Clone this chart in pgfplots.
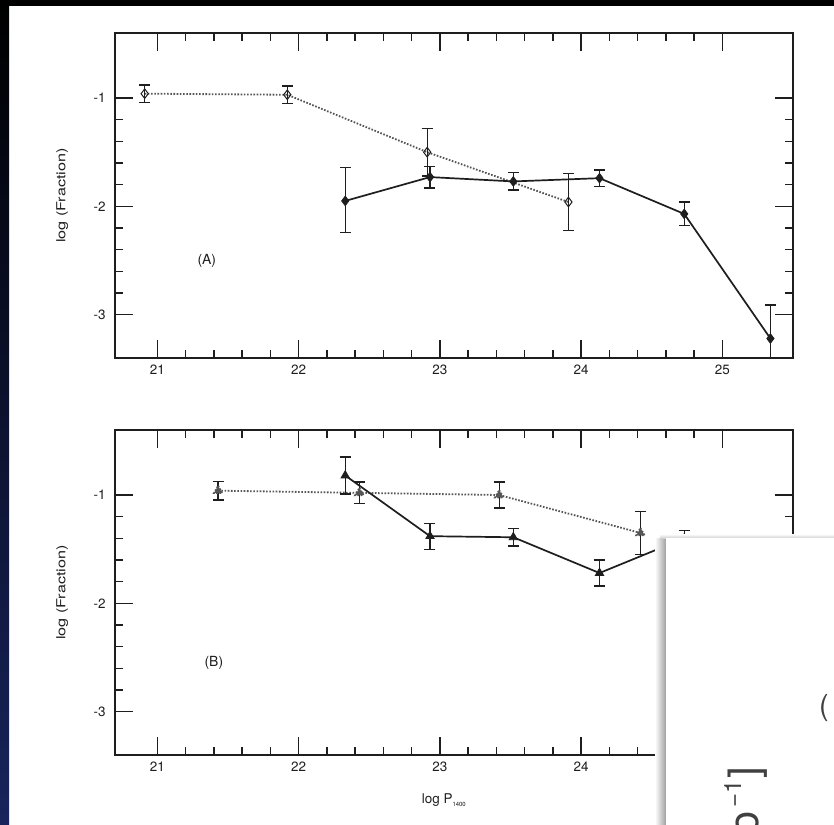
\documentclass[border=0pt]{standalone}
\usepackage{pgfplots}
\pgfplotsset{compat=1.18}
\usepackage{graphicx}
\usepackage{fontspec}
\setmainfont{TeX Gyre Heros}

\definecolor{ink}{RGB}{30,30,30}
\definecolor{dotgray}{RGB}{85,85,85}
\definecolor{navy}{RGB}{24,36,92}

\pgfplotsset{
  panel/.style={
    anchor=south west,
    width=678bp, height=325bp, scale only axis,
    xmin=20.7, xmax=25.5, ymin=-3.4, ymax=-0.4,
    xtick={21,22,23,24,25}, xticklabels={21,22,23,24,25},
    ytick={-3,-2,-1}, yticklabels={-3,-2,-1},
    minor x tick num=4, minor y tick num=4,
    tick align=inside,
    major tick length=18bp, minor tick length=8bp,
    every tick/.style={line width=1.3bp, ink},
    axis line style={line width=1.8bp, ink},
    tick label style={font=\fontsize{13.5}{15}\selectfont, text=ink},
    xticklabel style={yshift=-3bp},
    yticklabel style={xshift=-6bp},
    ylabel={\scalebox{1.3}[1]{log (Fraction)}},
    ylabel style={at={(axis description cs:-0.078,0.5)}, anchor=center,
                  font=\fontsize{12.5}{14}\selectfont, text=ink},
  },
  errs/.style={
    error bars/y dir=both, error bars/y explicit,
    error bars/error bar style={solid, line width=1.3bp, ink},
    error bars/error mark options={solid, rotate=90, line width=1.3bp, ink, mark size=5.5bp}},
  solidser/.style={errs, ink, line width=1.7bp, mark size=4.8bp,
    mark options={solid, fill=ink, draw=ink, line width=0.8bp}},
  dotser/.style={errs, dotgray, line width=1.8bp, dash pattern=on 1.6bp off 1.6bp,
    mark size=4.8bp,
    mark options={solid, fill=white, draw=ink, line width=1bp}},
}

\begin{document}
\begin{tikzpicture}[x=1bp, y=1bp]
  \clip (0,-825) rectangle (834,0);
  % page background and window edges
  \fill[white] (0,-825) rectangle (834,0);
  \shade[top color=black, bottom color=navy] (0,-825) rectangle (9,0);
  \fill[black] (0,-6) rectangle (834,0);

  % ---------- panel (A) ----------
  \begin{axis}[panel, at={(115bp,-358bp)}]
    \addplot[dotser, mark=diamond] table[x=x, y=y, y error plus=ep, y error minus=em] {
      x      y      ep    em
      20.91  -0.96  0.08  0.08
      21.92  -0.97  0.08  0.08
      22.91  -1.50  0.22  0.22
      23.91  -1.96  0.26  0.26
    };
    \addplot[solidser, mark=diamond*] table[x=x, y=y, y error plus=ep, y error minus=em] {
      x      y      ep     em
      22.33  -1.95  0.31   0.29
      22.93  -1.73  0.10   0.10
      23.52  -1.77  0.08   0.08
      24.13  -1.74  0.075  0.075
      24.73  -2.07  0.11   0.11
      25.34  -3.22  0.31   0.31
    };
    \node[font=\fontsize{14}{16}\selectfont, text=ink] at (axis cs:21.35,-2.5) {(A)};
  \end{axis}

  % ---------- panel (B) ----------
  \begin{axis}[panel, at={(115bp,-755bp)},
      xlabel={log P\raisebox{-3bp}{\fontsize{6}{7}\selectfont 1400}},
      xlabel style={at={(axis description cs:0.485,0)}, anchor=north, yshift=-35bp,
                    font=\fontsize{13.5}{15}\selectfont, text=ink}]
    \addplot[dotser, mark=triangle*, mark options={fill=dotgray}] table[x=x, y=y, y error plus=ep, y error minus=em] {
      x      y      ep     em
      21.43  -0.96  0.085  0.085
      22.43  -0.98  0.10   0.10
      23.42  -1.00  0.12   0.12
      24.42  -1.35  0.20   0.20
    };
    \addplot[solidser, mark=triangle*] table[x=x, y=y, y error plus=ep, y error minus=em] {
      x      y      ep    em
      22.33  -0.82  0.17  0.17
      22.93  -1.38  0.12  0.12
      23.52  -1.39  0.08  0.08
      24.13  -1.72  0.12  0.12
      24.73  -1.40  0.07  0.07
    };
    \node[font=\fontsize{14}{16}\selectfont, text=ink] at (axis cs:21.4,-2.55) {(B)};
  \end{axis}

  % ---------- overlapping window in the lower right ----------
  \shade[left color=white, right color=black!38] (655,-825) rectangle (666,-538);
  \shade[top color=white, bottom color=black!18] (660,-538) rectangle (834,-534);
  \fill[white] (666,-825) rectangle (834,-538);
  \node[anchor=west, inner sep=0pt, font=\fontsize{29}{34}\selectfont, text=black!75]
    at (819,-708) {(};
  \node[rotate=90, anchor=base east, inner sep=0pt, font=\fontsize{42}{50}\selectfont, text=black!75]
    at (758,-767) {o\kern4bp\raisebox{17bp}{\fontsize{24}{28}\selectfont −1}\kern1bp]};
\end{tikzpicture}
\end{document}
